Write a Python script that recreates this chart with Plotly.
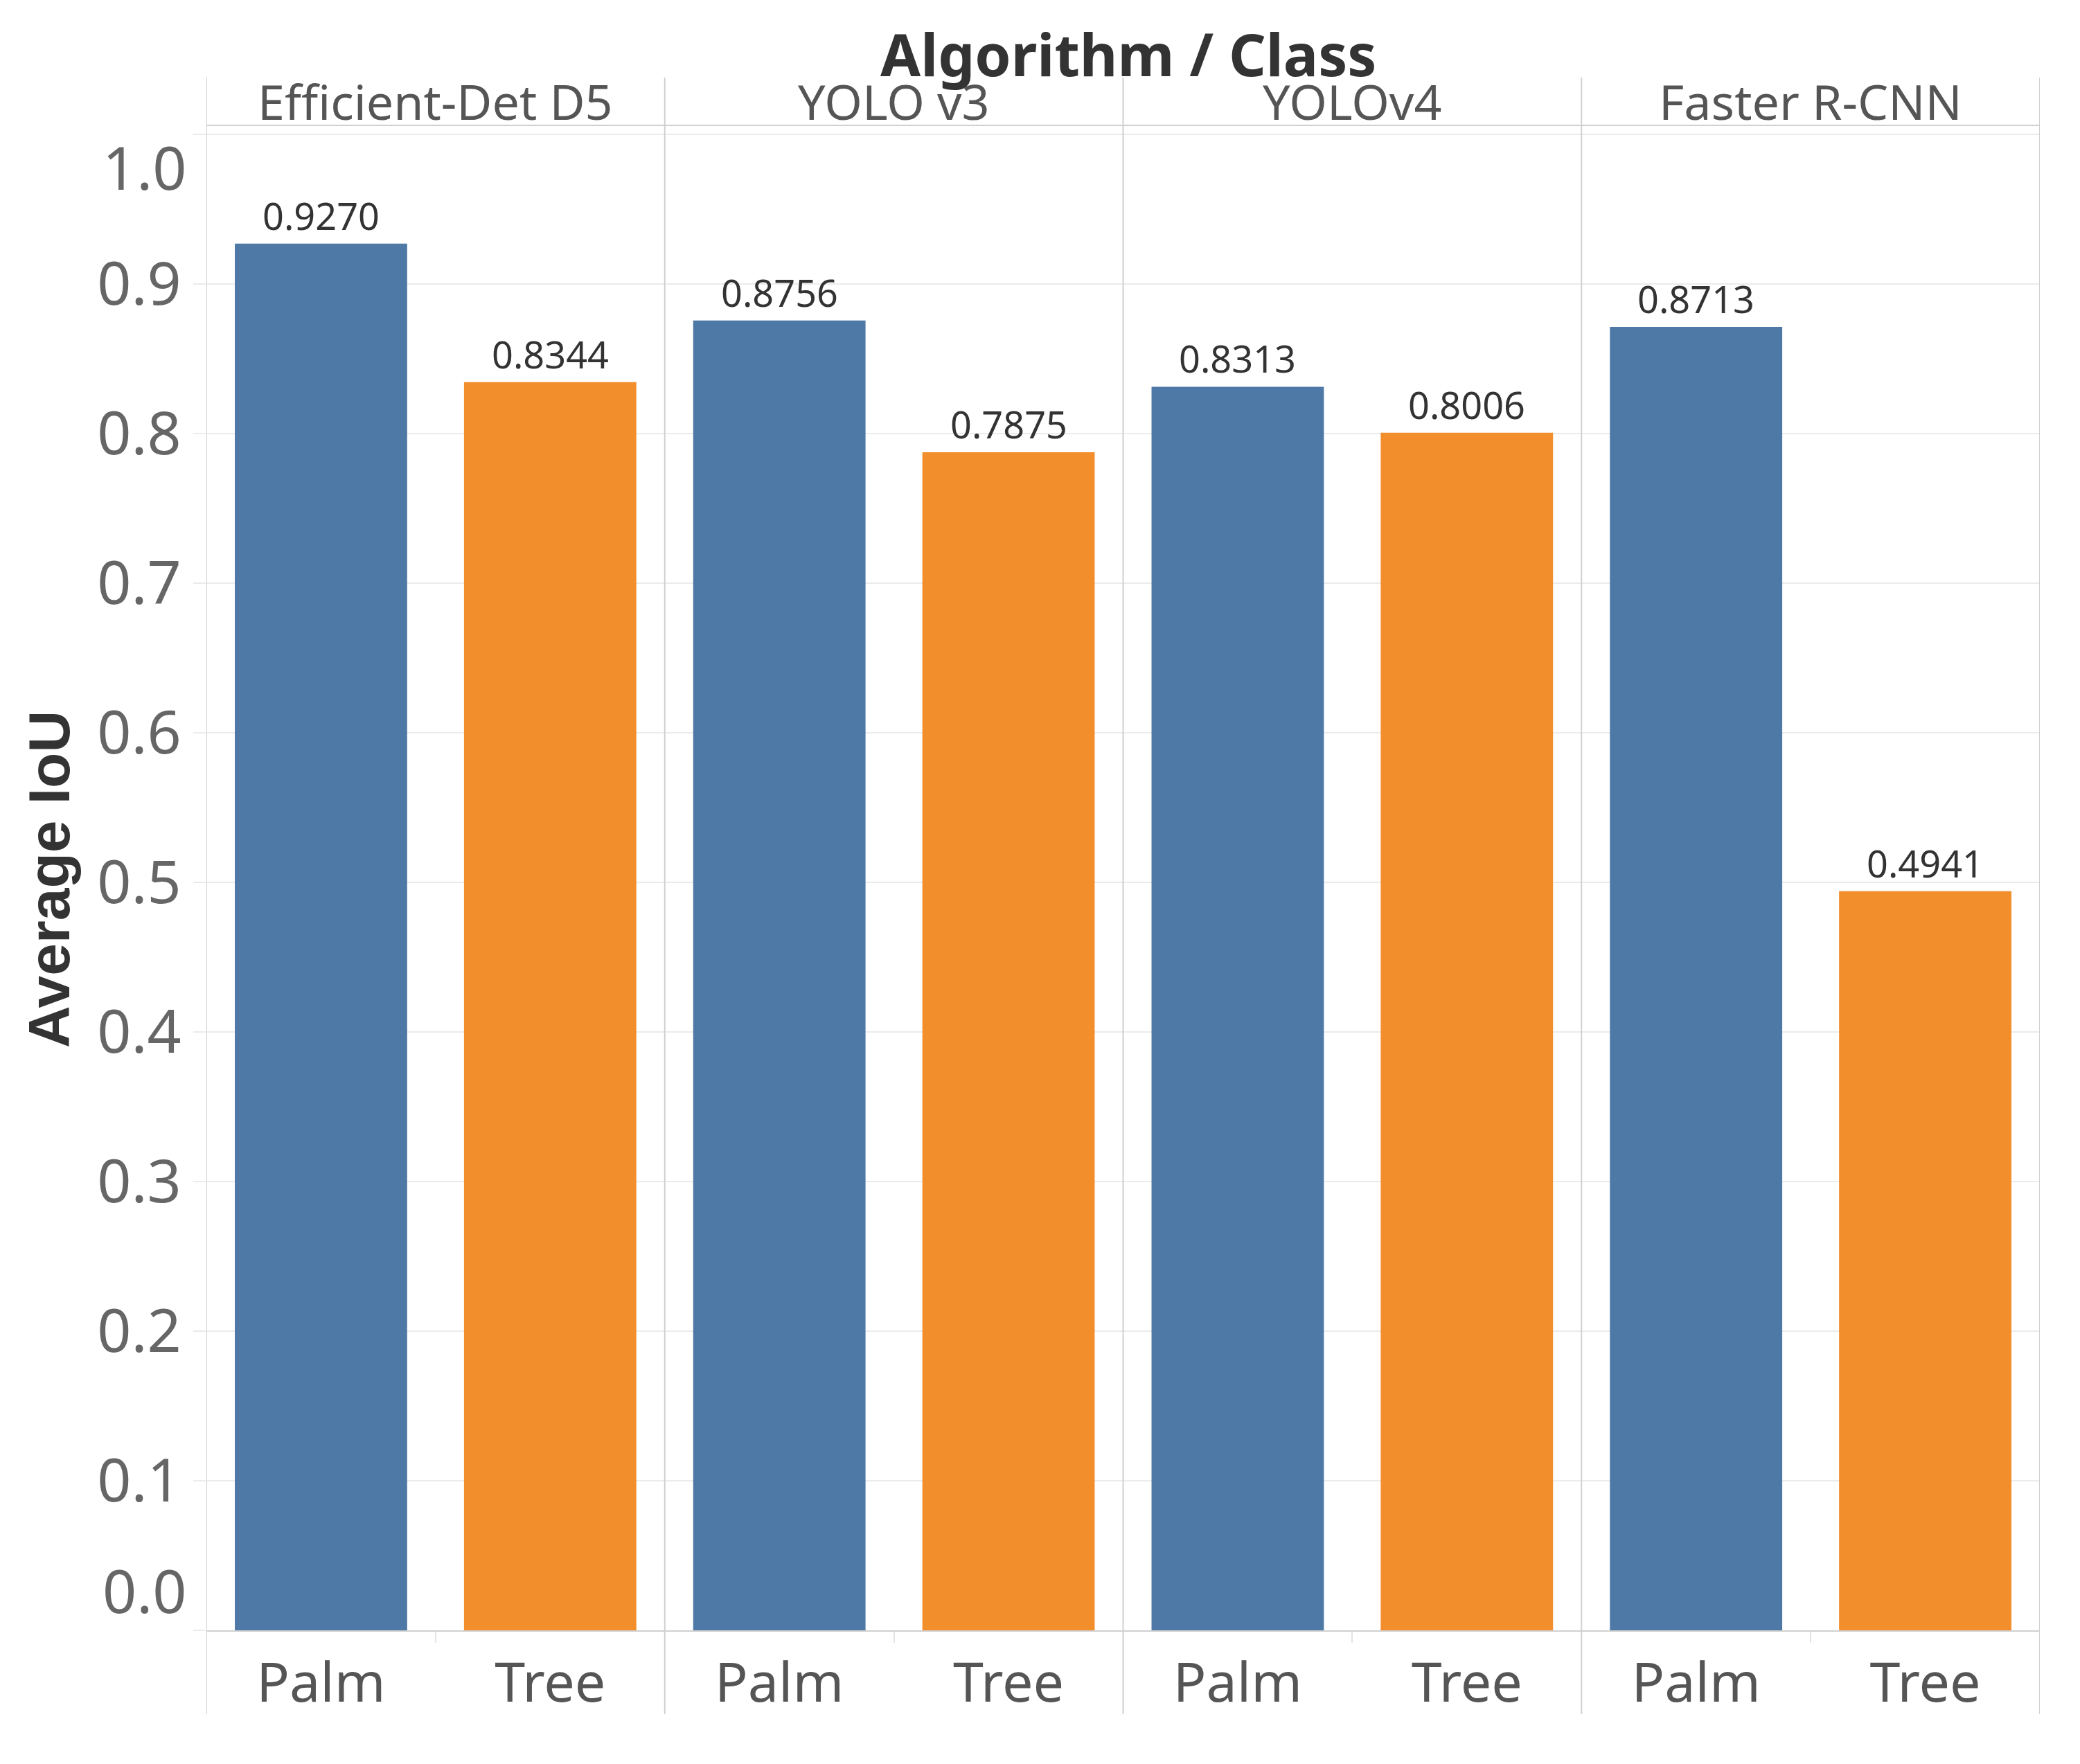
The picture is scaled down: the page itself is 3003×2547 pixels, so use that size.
import plotly.graph_objects as go

# ---- data ----
algorithms = ["Efficient-Det D5", "YOLO v3", "YOLOv4", "Faster R-CNN"]
classes = ["Palm", "Tree"]
palm_iou = [0.9270, 0.8756, 0.8313, 0.8713]
tree_iou = [0.8344, 0.7875, 0.8006, 0.4941]
y_ticks = [0.0, 0.1, 0.2, 0.3, 0.4, 0.5, 0.6, 0.7, 0.8, 0.9, 1.0]

BLUE = "#4E79A7"
ORANGE = "#F28E2B"
GRID = "#ebebeb"
BORDER = "#d0d0d0"
FONT = "Noto Sans"

n = len(algorithms)
palm_x = [2 * i for i in range(n)]
tree_x = [2 * i + 1 for i in range(n)]

fig = go.Figure()
fig.add_trace(go.Bar(x=palm_x, y=palm_iou, name="Palm",
                     marker=dict(color=BLUE, line=dict(width=0)), width=0.752))
fig.add_trace(go.Bar(x=tree_x, y=tree_iou, name="Tree",
                     marker=dict(color=ORANGE, line=dict(width=0)), width=0.752))

# page body has an 8px default margin -> compensate
OFF = 8
W, H = 3003 - 2 * OFF, 2547 - 2 * OFF
# plot area in reference pixel coords
PL, PR, PT, PB = 298, 2945, 181, 2354
L, T = PL - OFF, PT - OFF
R, B = W - (PR - OFF), H - (PB - OFF)
plot_h = PB - PT
plot_w = PR - PL

def py(px):
    return (PB - px) / plot_h

def pxx(px):
    return (px - PL) / plot_w

cat_vals = palm_x + tree_x
cat_text = [classes[0]] * n + [classes[1]] * n

fig.update_layout(
    width=W, height=H,
    margin=dict(l=L, r=R, t=T, b=B),
    plot_bgcolor="white", paper_bgcolor="white",
    barmode="overlay", showlegend=False,
    xaxis=dict(
        range=[-0.5, 2 * n - 0.5], tickmode="array", tickvals=cat_vals, ticktext=cat_text,
        tickfont=dict(family=FONT, size=79, color="#555555"),
        ticks="", showgrid=False, zeroline=False,
        showline=True, linecolor=BORDER, linewidth=2,
        ticklabelstandoff=6,
        minor=dict(tickvals=[2 * i + 0.5 for i in range(n)], ticks="outside",
                   ticklen=16, tickcolor="#e4e4e4", tickwidth=2, showgrid=False),
    ),
    yaxis=dict(
        range=[0, plot_h / 2160], tickmode="array", tickvals=y_ticks,
        ticktext=["" if v in (0.0, 1.0) else f"{v:.1f}" for v in y_ticks],
        tickfont=dict(family=FONT, size=86, color="#666666"),
        showgrid=True, gridcolor=GRID, gridwidth=2,
        ticks="outside", ticklen=18, tickcolor=GRID, tickwidth=2,
        zeroline=False, showline=False,
    ),
)

# value labels above bars
for xs, vals in ((palm_x, palm_iou), (tree_x, tree_iou)):
    for xv, v in zip(xs, vals):
        fig.add_annotation(x=xv, y=v, xref="x", yref="y", text=f"{v:.4f}",
                           showarrow=False, xanchor="center", yanchor="middle", yshift=41,
                           font=dict(family=FONT, size=54, color="#333333"))

# edge tick labels (Tableau shifts them inward)
for v, ypx in ((1.0, 240), (0.0, 2295)):
    fig.add_annotation(x=pxx(271), y=py(ypx), xref="paper", yref="paper",
                       text=f"{v:.1f}", showarrow=False, xanchor="right", yanchor="middle",
                       font=dict(family=FONT, size=86, color="#666666"))

# pane dividers
for xv in [-0.5] + [2 * i + 1.5 for i in range(n)]:
    fig.add_shape(type="line", xref="x", yref="paper", x0=xv, x1=xv,
                  y0=py(2475), y1=py(112), line=dict(color=BORDER, width=2))
# header bottom line
fig.add_shape(type="line", xref="paper", yref="paper", x0=0, x1=1, y0=1, y1=1,
              line=dict(color=BORDER, width=2))

# header labels
for i, a in enumerate(algorithms):
    fig.add_annotation(x=2 * i + 0.5, y=py(146), xref="x", yref="paper", text=a,
                       showarrow=False, xanchor="center", yanchor="middle",
                       font=dict(family=FONT, size=70, color="#555555"))

# title
fig.add_annotation(x=pxx(1629), y=py(78), xref="paper", yref="paper",
                   text="<b>Algorithm / Class</b>", showarrow=False,
                   xanchor="center", yanchor="middle",
                   font=dict(family=FONT, size=84, color="#333333"))

# y axis title
fig.add_annotation(x=pxx(71), y=py(1270), xref="paper", yref="paper",
                   text="<b>Average IoU</b>", showarrow=False, textangle=-90,
                   xanchor="center", yanchor="middle",
                   font=dict(family="Liberation Sans", size=84, color="#333333"))

fig.write_html("out.html")
